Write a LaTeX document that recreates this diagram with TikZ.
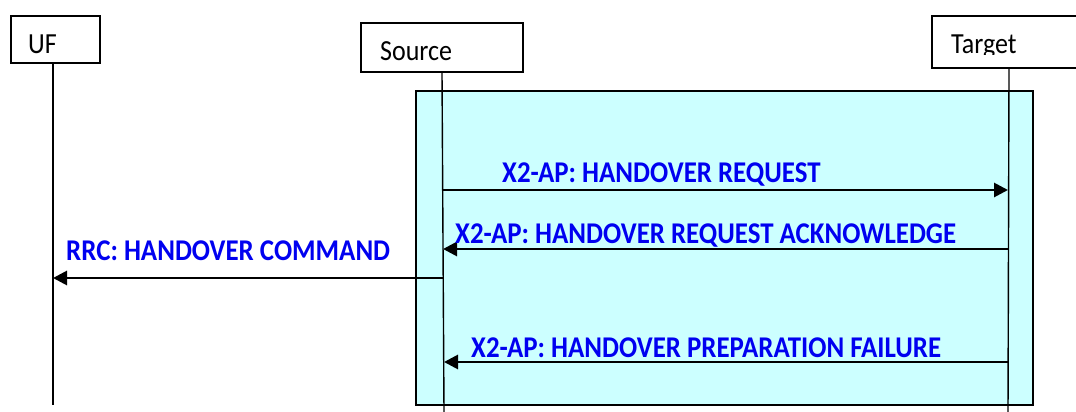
\documentclass[tikz,border=0pt]{standalone}
\usepackage{fontspec}
\setmainfont{Carlito}
\usetikzlibrary{arrows.meta}
\definecolor{boxcyan}{HTML}{CCFFFF}
\definecolor{msgblue}{HTML}{0000F0}
\tikzset{
  x=1pt, y=-1pt,
  actor/.style={draw=black, line width=1.8pt, fill=white, inner sep=0pt},
  lifeline/.style={draw=black, line width=1.4pt},
  msg/.style={draw=black, line width=2.8pt, -{Triangle[length=14pt,width=14pt]}},
  msglabel/.style={font=\bfseries\fontsize{26.9}{28}\selectfont, text=msgblue, anchor=base west, inner sep=0pt, yscale=1.12},
  actorlabel/.style={font=\fontsize{26}{28}\selectfont, anchor=base west, inner sep=0pt, yscale=1.12}
}
\begin{document}
\begin{tikzpicture}
\useasboundingbox (0,0) rectangle (1076,412);
\fill[white] (0,0) rectangle (1076,412);
% cyan region
\node[draw=black, line width=1.8pt, fill=boxcyan, minimum width=617pt, minimum height=314pt, anchor=north west, inner sep=0pt] (region) at (415,90) {};
% actor boxes
\node[actor, minimum width=89pt, minimum height=47pt, anchor=north west] (ue) at (10,15) {};
\node[actor, minimum width=162pt, minimum height=49pt, anchor=north west] (src) at (360,22) {};
\node[actor, minimum width=160pt, minimum height=52pt, anchor=north west] (tgt) at (931,15) {};
\node[actorlabel] (uelabel) at (28,53) {UF};
\node[actorlabel] (srclabel) at (380,60) {Source};
\begin{scope}
\clip (940,20) rectangle (1076,55);
\node[actorlabel] (tgtlabel) at (951,54) {Target};
\end{scope}
% lifelines
\coordinate (ueb) at (53,405);
\coordinate (srcb) at (444,412);
\coordinate (tgtb) at (1008,412);
\draw[lifeline] (ue.south -| 53,0) -- (ueb);
\draw[lifeline] (src.south -| 442,0) -- (srcb);
\draw[lifeline] (tgt.south -| 1009,0) -- (tgtb);
% messages
\coordinate (s1) at (443,190); \coordinate (t1) at (1008,190);
\coordinate (t2) at (1008,249); \coordinate (s2) at (443,249);
\coordinate (s3) at (443,278); \coordinate (u3) at (53,278);
\coordinate (t4) at (1008,362); \coordinate (s4) at (444,362);
\draw[msg] (s1) -- (t1);
\draw[msg] (t2) -- (s2);
\draw[msg] (s3) -- (u3);
\draw[msg] (t4) -- (s4);
\node[msglabel] (l1) at (502,182) {X2-AP: HANDOVER REQUEST};
\node[msglabel] (l2) at (455,243) {X2-AP: HANDOVER REQUEST ACKNOWLEDGE};
\node[msglabel] (l3) at (66,260) {RRC: HANDOVER COMMAND};
\node[msglabel] (l4) at (471,357) {X2-AP: HANDOVER PREPARATION FAILURE};
\end{tikzpicture}
\end{document}
